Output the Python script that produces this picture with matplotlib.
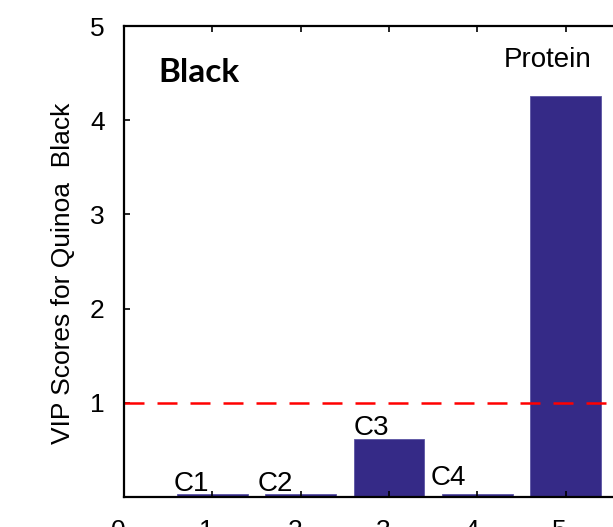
import matplotlib
matplotlib.use('Agg')
from matplotlib import pyplot as plt
from matplotlib.transforms import ScaledTranslation

# VIP scores per variable
positions = [1, 2, 3, 4, 5]
vip_scores = [0.03, 0.03, 0.62, 0.03, 4.26]
bar_labels = ['C1', 'C2', 'C3', 'C4', 'Protein']
label_x = [0.76, 1.71, 2.80, 3.67, 4.80]
label_y = [0.06, 0.06, 0.66, 0.13, 4.56]
threshold = 1

plt.rcParams['font.family'] = 'Liberation Sans'

fig = plt.figure(dpi=100, figsize=(6.13, 5.27))
ax = fig.add_axes([0.2023, 0.0569, 0.8646, 0.8937])

ax.bar(positions, vip_scores, width=0.8, color='#352a87', edgecolor='#5b54a3', linewidth=0.6)
ax.axhline(threshold, color='#ff0000', linewidth=1.8, dashes=(8, 5.2))

for x, y, t in zip(label_x, label_y, bar_labels):
    ax.text(x, y, t, ha='center', va='baseline', fontsize=20)

ax.text(0.385, 4.51, 'Black', fontsize=24, fontweight='bold', family='Lato',
        ha='left', va='center')

ax.set_xlim(0, 6)
ax.set_ylim(0, 5)
ax.set_xticks(range(0, 7))
ax.set_yticks([1, 2, 3, 4, 5])
ax.set_ylabel('VIP Scores for Quinoa  Black', fontsize=19)
ax.yaxis.set_label_coords(-0.092, 0.475)

ax.tick_params(axis='both', direction='in', length=4, width=1.2, labelsize=19,
               top=True, right=True)
ax.tick_params(axis='y', pad=14)
ax.tick_params(axis='x', pad=16)
# shift x tick labels a bit left like in the original
offset = ScaledTranslation(-6 / 100, 0, fig.dpi_scale_trans)
for lbl in ax.get_xticklabels():
    lbl.set_transform(lbl.get_transform() + offset)
for s in ax.spines.values():
    s.set_linewidth(1.6)

plt.savefig('out.png', dpi=100)
